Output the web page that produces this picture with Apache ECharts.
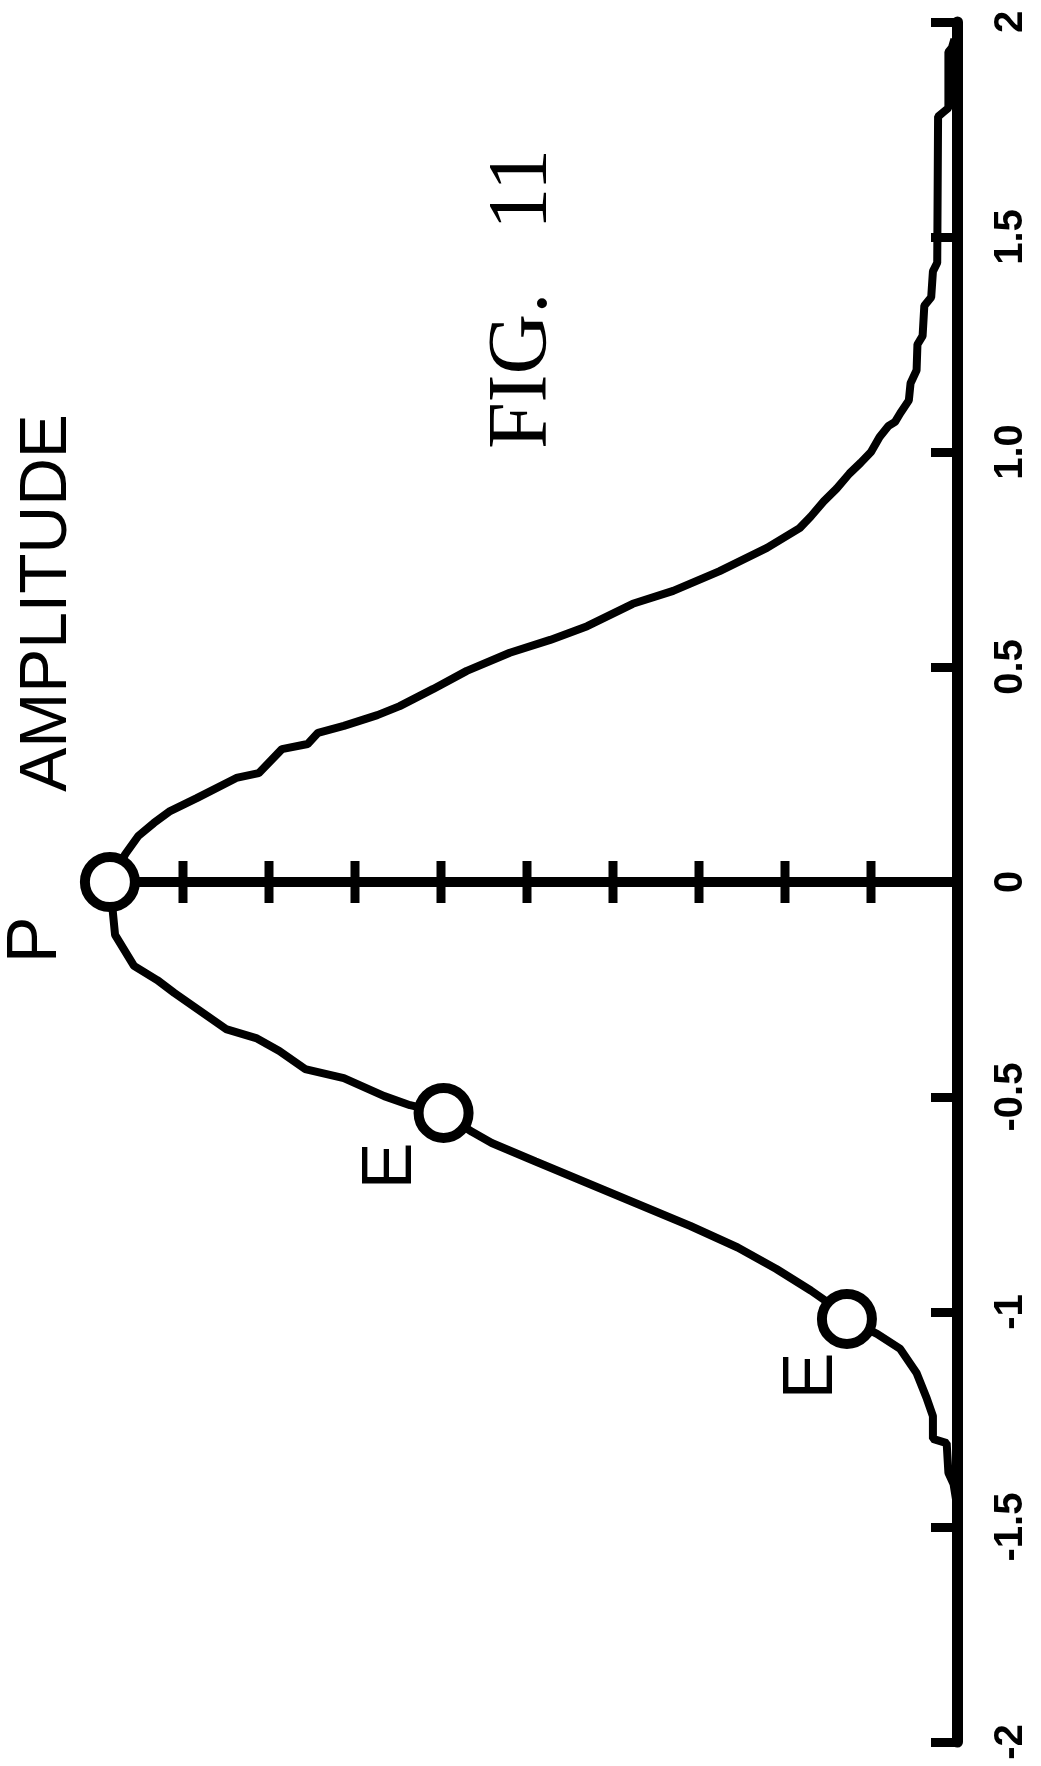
<!DOCTYPE html>
<html>
<head>
<meta charset="utf-8">
<title>FIG. 11</title>
<script src="https://cdn.jsdelivr.net/npm/echarts@6/dist/echarts.min.js"></script>
<style>
    html, body { margin: 0; padding: 0; background: #fff; }
    #chart { width: 1041px; height: 1766px; }
</style>
</head>
<body>
<div id="chart"></div>
<script>
// traced curve: position along the axis (-2 .. 2) and amplitude (0 .. 1)
var curvePos = [1.96, 1.94, 1.93, 1.80, 1.79, 1.78, 1.44, 1.42, 1.36, 1.34, 1.27, 1.25, 1.19, 1.16,
    1.12, 1.09, 1.07, 1.06, 1.035, 1.00, 0.975, 0.95, 0.915, 0.885, 0.85, 0.823, 0.777, 0.723,
    0.677, 0.647, 0.595, 0.563, 0.533, 0.491, 0.449, 0.409, 0.388, 0.363, 0.347, 0.321, 0.309,
    0.253, 0.242, 0.195, 0.165, 0.137, 0.107, 0.065, 0.0,
    -0.123, -0.195, -0.228, -0.258, -0.342, -0.363, -0.393, -0.435, -0.456, -0.498, -0.519,
    -0.537, -0.581, -0.607, -0.65, -0.70, -0.75, -0.80, -0.85, -0.90, -0.95, -0.985, -1.016,
    -1.051, -1.086, -1.142, -1.202, -1.242, -1.295, -1.305, -1.374, -1.40, -1.45];
var curveAmp = [0.003, 0.006, 0.010, 0.010, 0.016, 0.022, 0.023, 0.028, 0.030, 0.038, 0.040, 0.046, 0.047, 0.054,
    0.056, 0.066, 0.072, 0.080, 0.090, 0.100, 0.112, 0.125, 0.140, 0.155, 0.170, 0.183, 0.221, 0.276,
    0.330, 0.377, 0.430, 0.473, 0.520, 0.570, 0.609, 0.648, 0.674, 0.713, 0.743, 0.755, 0.785,
    0.812, 0.838, 0.884, 0.915, 0.934, 0.952, 0.967, 0.985,
    0.979, 0.957, 0.930, 0.910, 0.850, 0.815, 0.788, 0.758, 0.713, 0.666, 0.636,
    0.597, 0.564, 0.541, 0.49, 0.43, 0.37, 0.31, 0.255, 0.21, 0.17, 0.145, 0.128,
    0.093, 0.066, 0.047, 0.035, 0.028, 0.028, 0.012, 0.010, 0.004, 0.0];

// marked points P, E, E
var markPos = [0, -0.537, -1.016];
var markAmp = [0.985, 0.597, 0.128];

// cross ticks on the amplitude line
var ampTicks = [0.1, 0.2, 0.3, 0.4, 0.5, 0.6, 0.7, 0.8, 0.9];

// tick labels of the position axis
var posTicks = [-2, -1.5, -1, -0.5, 0, 0.5, 1, 1.5, 2];
var posTickLabels = ['-2', '-1.5', '-1', '-0.5', '0', '0.5', '1.0', '1.5', '2'];

var chart = echarts.init(document.getElementById('chart'));

function pairs(amp, pos) {
    return amp.map(function (a, i) { return [a, pos[i]]; });
}

function rotatedText(text, x, y, font) {
    return {
        type: 'text',
        x: x,
        y: y,
        rotation: Math.PI / 2,
        style: {
            text: text,
            font: font,
            fill: '#000',
            align: 'center',
            verticalAlign: 'middle',
            textAlign: 'center',
            textVerticalAlign: 'middle'
        }
    };
}

chart.setOption({
    animation: false,
    backgroundColor: '#fff',
    grid: { left: 97, right: 84, top: 22, bottom: 24 },
    xAxis: {
        type: 'value',
        min: 0,
        max: 1,
        inverse: true,
        axisLine: { onZero: true, lineStyle: { color: '#000', width: 10 } },
        axisTick: { show: false },
        axisLabel: { show: false },
        splitLine: { show: false }
    },
    yAxis: {
        type: 'value',
        position: 'right',
        min: -2,
        max: 2,
        interval: 0.5,
        axisLine: { show: true, onZero: false, lineStyle: { color: '#000', width: 11 } },
        axisTick: { show: true, inside: true, length: 26, lineStyle: { color: '#000', width: 9 } },
        axisLabel: {
            rotate: 90,
            margin: 34,
            color: '#000',
            fontFamily: 'Liberation Sans',
            fontWeight: 'bold',
            fontSize: 40,
            formatter: function (v) {
                var i = posTicks.indexOf(v);
                return i >= 0 ? posTickLabels[i] : '';
            }
        },
        splitLine: { show: false }
    },
    series: [
        {
            type: 'line',
            data: pairs(curveAmp, curvePos),
            showSymbol: false,
            symbol: 'none',
            lineStyle: { color: '#000', width: 8, opacity: 1 },
            z: 2
        },
        {
            type: 'scatter',
            data: ampTicks.map(function (a) { return [a, 0]; }),
            symbol: 'rect',
            symbolSize: [9, 42],
            itemStyle: { color: '#000', opacity: 1 },
            z: 3
        },
        {
            type: 'scatter',
            data: pairs(markAmp, markPos),
            symbol: 'circle',
            symbolSize: 50,
            itemStyle: { color: '#fff', borderColor: '#000', borderWidth: 10, opacity: 1 },
            z: 4
        }
    ],
    graphic: [
        rotatedText('AMPLITUDE', 48, 603, '66px "Liberation Sans"'),
        rotatedText('FIG.   11', 524, 299, '84px "Liberation Serif"'),
        rotatedText('P', 37, 940, '70px "Liberation Sans"'),
        rotatedText('E', 392, 1166, '70px "Liberation Sans"'),
        rotatedText('E', 813, 1376, '70px "Liberation Sans"')
    ]
});
</script>
</body>
</html>
